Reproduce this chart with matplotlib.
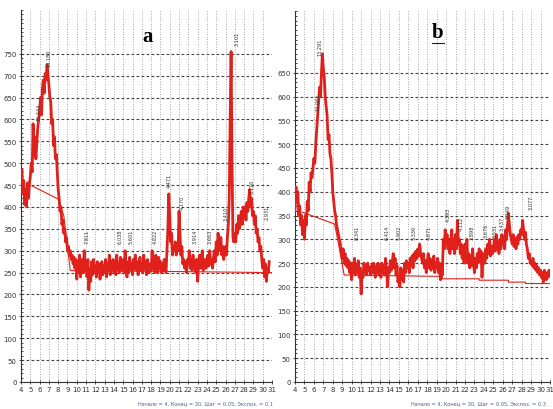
import numpy as np
import matplotlib
matplotlib.use("Agg")
import matplotlib.pyplot as plt
from matplotlib.ticker import MultipleLocator

# ---------------- data ----------------
two_theta_start = 4.0
two_theta_step = 0.1

intensity_a = [
    470, 485, 430, 460, 405, 440, 400, 455, 420, 450,
    470, 500, 480, 590, 520, 560, 510, 545, 580, 600,
    620, 650, 610, 670, 690, 660, 705, 690, 725, 700,
    680, 650, 640, 590, 600, 540, 560, 510, 520, 480,
    440, 420, 390, 400, 360, 370, 340, 350, 320, 330,
    300, 310, 290, 300, 280, 290, 270, 285, 260, 280,
    235, 275, 250, 290, 240, 270, 280, 250, 300, 260,
    270, 240, 280, 210, 260, 230, 275, 245, 280, 250,
    265, 240, 275, 250, 270, 235, 260, 275, 245, 265,
    250, 280, 240, 270, 255, 290, 245, 275, 260, 280,
    250, 275, 245, 290, 260, 270, 250, 285, 255, 265,
    280, 250, 300, 260, 240, 275, 250, 285, 260, 270,
    245, 280, 260, 290, 255, 275, 245, 270, 285, 255,
    270, 250, 290, 260, 275, 245, 280, 260, 250, 270,
    255, 300, 260, 280, 250, 290, 265, 250, 285, 260,
    275, 250, 270, 255, 280, 260, 250, 300, 350, 430,
    380, 320, 340, 290, 310, 300, 320, 290, 305, 300,
    390, 340, 290, 310, 270, 280, 260, 275, 250, 280,
    270, 300, 260, 280, 255, 290, 265, 275, 250, 280,
    230, 270, 290, 260, 280, 300, 255, 270, 280, 260,
    275, 290, 265, 300, 270, 280, 260, 285, 300, 275,
    320, 290, 340, 310, 300, 330, 290, 310, 280, 300,
    310, 290, 330, 360, 420, 600, 755, 500, 330, 320,
    340, 320, 360, 340, 380, 350, 370, 390, 360, 400,
    380, 400, 370, 410, 390, 420, 440, 400, 420, 380,
    390, 360, 380, 340, 350, 320, 330, 300, 310, 280,
    260, 280, 240, 270, 230, 260, 250, 275,
]

intensity_b = [
    360, 410, 380, 400, 350, 370, 330, 350, 310, 340,
    300, 350, 330, 380, 360, 420, 400, 440, 430, 450,
    470, 460, 500, 530, 560, 590, 620, 600, 650, 690,
    660, 640, 600, 580, 560, 510, 520, 480, 470, 440,
    400, 380, 360, 350, 330, 320, 310, 300, 290, 270,
    260, 280, 250, 270, 245, 260, 240, 255, 230, 250,
    215, 250, 230, 260, 225, 245, 230, 255, 220, 240,
    185, 230, 220, 250, 230, 245, 225, 250, 235, 240,
    225, 245, 230, 250, 235, 220, 245, 230, 250, 225,
    240, 220, 250, 230, 245, 225, 260, 235, 200, 240,
    230, 255, 235, 250, 270, 240, 260, 225, 245, 210,
    220, 200, 240, 215, 235, 210, 250, 230, 255, 240,
    250, 230, 260, 245, 265, 240, 270, 255, 275, 260,
    280, 265, 290, 270, 260, 250, 270, 240, 255, 230,
    250, 270, 240, 260, 235, 255, 240, 265, 230, 250,
    240, 260, 230, 250, 215, 245, 225, 300, 280, 320,
    290, 310, 280, 300, 270, 290, 320, 280, 300, 270,
    310, 280, 340, 290, 300, 270, 290, 260, 285, 250,
    290, 260, 300, 250, 270, 240, 265, 245, 280, 250,
    230, 260, 240, 270, 250, 280, 255, 275, 220, 260,
    270, 250, 280, 260, 290, 270, 300, 265, 285, 270,
    280, 300, 275, 310, 285, 290, 270, 300, 280, 310,
    290, 305, 280, 320, 300, 330, 355, 330, 310, 300,
    290, 310, 285, 300, 280, 305, 290, 310, 300, 320,
    310, 340, 320, 300, 315, 290, 280, 260, 270, 250,
    255, 245, 260, 240, 250, 235, 245, 230, 240, 225,
    235, 220, 230, 210, 235, 225, 215, 230, 220, 235,
    225,
]

# background lines (2theta, intensity)
bg_a_x = [5.2, 8.0, 8.6, 9.3, 31.0]
bg_a_y = [448, 418, 380, 255, 250]
bg_b_x = [4.8, 8.2, 8.8, 9.2, 19.6, 19.6, 23.5, 23.5, 26.6, 26.6, 28.4, 28.4, 31.0]
bg_b_y = [357, 332, 270, 225, 222, 217, 217, 214, 214, 210, 210, 207, 207]

# peak labels: (2theta, intensity at label base, text)
peaks_a = [
    (7.05, 722, "14.180"), (5.9, 598, "15.444"), (11.1, 318, "7.811"),
    (14.7, 318, "6.038"), (15.8, 318, "5.601"), (18.4, 318, "4.822"),
    (20.0, 445, "4.471"), (21.3, 395, "4.170"), (22.7, 318, "3.914"),
    (24.3, 318, "3.663"), (26.1, 370, "3.410"), (27.2, 770, "3.101"),
    (28.9, 432, "3.116"), (30.5, 372, "2.931"),
]
peaks_b = [
    (6.7, 688, "13.291"), (6.4, 572, "14.061"), (10.6, 300, "8.341"),
    (13.8, 300, "6.414"), (15.0, 300, "5.902"), (16.6, 300, "5.336"),
    (18.2, 300, "4.871"), (20.2, 338, "4.393"), (21.6, 320, "4.112"),
    (22.8, 300, "3.898"), (24.2, 305, "3.676"), (25.2, 305, "3.531"),
    (25.9, 320, "3.437"), (26.6, 345, "3.349"), (29.0, 363, "3.077"),
]

caption_a = "Начало = 4, Конец = 30, Шаг = 0.05, Экспоз. = 0.1"
caption_b = "Начало = 4, Конец = 30, Шаг = 0.05, Экспоз. = 0.3"

# ---------------- figure ----------------
W, H = 553, 410
fig = plt.figure(figsize=(W / 100, H / 100), dpi=100)
fig.patch.set_facecolor("white")

red = "#e0201a"


def px(l, b, r, t):
    return [l / W, 1 - b / H, (r - l) / W, (b - t) / H]


def draw_panel(ax, y, ymax, ytop_tick, bgx, bgy, peaks):
    x = two_theta_start + two_theta_step * np.arange(len(y))
    ax.set_xlim(4, 31)
    ax.set_ylim(0, ymax)
    # grid
    for gx in range(4, 32):
        ax.axvline(gx, color="#8a8a8a", lw=0.6, ls=(0, (1, 2)), zorder=0)
    for gy in range(50, ytop_tick + 1, 50):
        ax.axhline(gy, color="#444444", lw=0.8, ls=(0, (2.5, 2)), zorder=0)
    ax.plot(bgx, bgy, color=red, lw=0.8, zorder=2)
    ax.plot(x, y, color=red, lw=2.0, zorder=3)
    for px_, py_, t in peaks:
        ax.text(px_, py_, t, rotation=90, fontsize=3.6, color="#333333",
                ha="center", va="bottom", zorder=4)
    ax.set_xticks(range(4, 32))
    ax.set_xticklabels([str(v) for v in range(4, 32)])
    ax.set_yticks(range(0, ytop_tick + 1, 50))
    ax.yaxis.set_minor_locator(MultipleLocator(10))
    ax.tick_params(axis="both", labelsize=5, colors="#333333", length=3,
                   width=0.6, pad=1.5, direction="inout")
    ax.tick_params(axis="y", which="minor", length=1.5, width=0.5,
                   direction="in")
    ax.spines["top"].set_visible(False)
    ax.spines["right"].set_visible(False)
    ax.spines["left"].set_color("#333333")
    ax.spines["bottom"].set_color("#333333")
    ax.spines["left"].set_linewidth(0.8)
    ax.spines["bottom"].set_linewidth(0.8)
    ax.set_facecolor("white")


ax_a = fig.add_axes(px(21, 383, 272, 11))
draw_panel(ax_a, intensity_a, 850, 750, bg_a_x, bg_a_y, peaks_a)

ax_b = fig.add_axes(px(295, 383, 550, 12))
draw_panel(ax_b, intensity_b, 780, 650, bg_b_x, bg_b_y, peaks_b)

fig.text(148 / W, 1 - 37 / H, "a", fontsize=15, fontweight="bold",
         family="Liberation Serif", ha="center", va="center")
fig.text(438 / W, 1 - 33 / H, "b", fontsize=15, fontweight="bold",
         family="Liberation Serif", ha="center", va="center")
fig.add_artist(plt.Line2D([432 / W, 444 / W], [1 - 44 / H, 1 - 44 / H],
                          color="#222222", lw=0.8))

fig.text(205 / W, 1 - 404 / H, caption_a, fontsize=3.6, color="#4a5a8a",
         ha="center", va="center")
fig.text(478 / W, 1 - 404 / H, caption_b, fontsize=3.6, color="#4a5a8a",
         ha="center", va="center")

fig.savefig("out.png", dpi=100, facecolor="white")
